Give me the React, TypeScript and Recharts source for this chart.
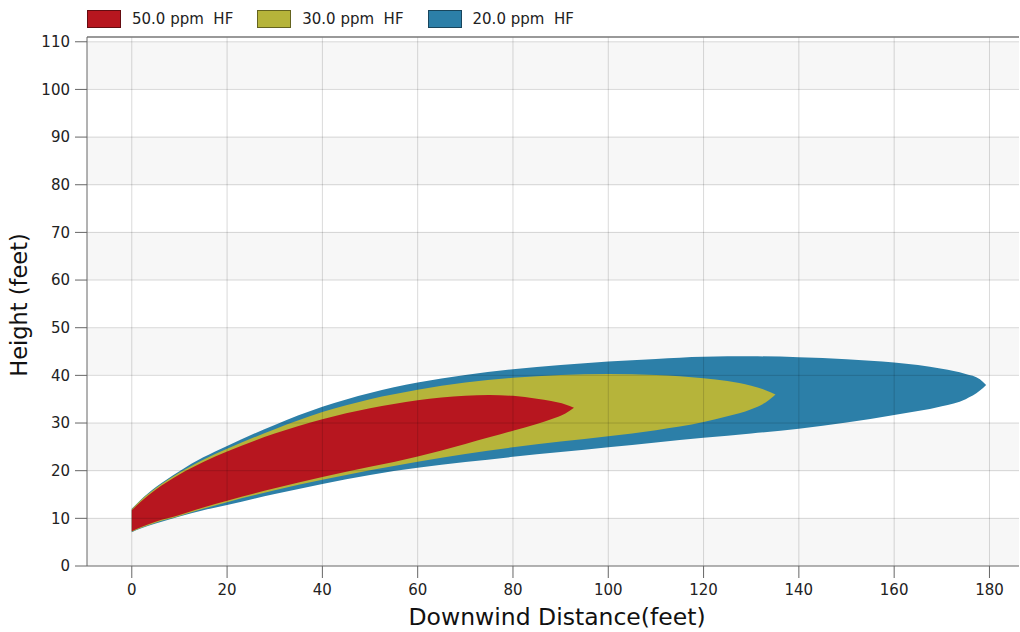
import React from 'react';
import { ComposedChart, Area, XAxis, YAxis, CartesianGrid, ReferenceLine } from 'recharts';

const xTicks = [0, 20, 40, 60, 80, 100, 120, 140, 160, 180];
const yTicks = [0, 10, 20, 30, 40, 50, 60, 70, 80, 90, 100, 110];

const seriesNames = ['50.0 ppm  HF', '30.0 ppm  HF', '20.0 ppm  HF'];
const seriesColors = ['#b7161f', '#b6b43a', '#2c7fa8'];

// 50.0 ppm HF plume
const redX = [0, 2, 5, 10, 15, 20, 30, 40, 50, 60, 70, 75, 80, 85, 88, 91, 92.8];
const redHigh = [11.7, 13.6, 16.0, 19.2, 21.8, 24.0, 27.8, 30.8, 33.1, 34.8, 35.7, 35.9, 35.7, 35.1, 34.6, 33.9, 33.2];
const redLow = [7.3, 8.2, 9.3, 10.7, 12.3, 13.7, 16.3, 18.7, 20.8, 23.0, 25.6, 27.0, 28.4, 29.8, 30.8, 32.0, 33.2];

// 30.0 ppm HF plume
const yellowX = [0, 2, 5, 10, 15, 20, 30, 40, 50, 60, 70, 80, 90, 100, 110, 120, 125, 130, 133, 135.1];
const yellowHigh = [11.9, 13.9, 16.3, 19.6, 22.3, 24.6, 28.7, 32.3, 35.0, 37.0, 38.5, 39.5, 40.1, 40.3, 40.1, 39.4, 38.8, 37.8, 36.9, 36.0];
const yellowLow = [7.2, 8.0, 9.1, 10.5, 12.0, 13.4, 15.9, 18.1, 20.1, 21.9, 23.5, 24.9, 26.1, 27.2, 28.5, 30.2, 31.4, 32.9, 34.3, 36.0];

// 20.0 ppm HF plume
const blueX = [0, 2, 5, 10, 15, 20, 30, 40, 50, 60, 70, 80, 90, 100, 110, 120, 130, 140, 150, 160, 170, 175, 178, 179.3];
const blueHigh = [12.0, 14.0, 16.5, 19.9, 22.8, 25.2, 29.6, 33.4, 36.3, 38.5, 40.1, 41.3, 42.15, 42.9, 43.45, 43.9, 44.0, 43.8, 43.4, 42.7, 41.4, 40.3, 39.2, 38.0];
const blueLow = [7.1, 7.9, 8.9, 10.4, 11.7, 12.8, 15.1, 17.2, 19.1, 20.6, 21.8, 22.9, 23.9, 24.9, 25.9, 26.9, 27.8, 28.8, 30.1, 31.7, 33.5, 35.0, 36.8, 38.0];

type Row = { x: number; red?: number[]; yellow?: number[]; blue?: number[] };

function buildTable(): Row[] {
  const map = new Map<number, Row>();
  const add = (key: 'red' | 'yellow' | 'blue', xs: number[], lo: number[], hi: number[]) => {
    xs.forEach((x, i) => {
      const row = map.get(x) ?? { x };
      row[key] = [lo[i], hi[i]];
      map.set(x, row);
    });
  };
  add('blue', blueX, blueLow, blueHigh);
  add('yellow', yellowX, yellowLow, yellowHigh);
  add('red', redX, redLow, redHigh);
  return Array.from(map.values()).sort((a, b) => a.x - b.x);
}

const data = buildTable();
const FONT = '"DejaVu Sans", Verdana, sans-serif';
const gridStroke = 'rgba(0,0,0,0.15)';

export default function App() {
  return (
    <div style={{ position: 'absolute', left: 0, top: 0, width: 1020, height: 632, background: '#fff', fontFamily: FONT }}>
      <ComposedChart width={1020} height={632} data={data} margin={{ top: 37, right: 1, bottom: 0, left: 0 }}>
        <CartesianGrid stroke="none" vertical={false} horizontalFill={['#ffffff', '#f7f7f7']} />
        <XAxis
          dataKey="x"
          type="number"
          domain={[-9.4, 186.2]}
          ticks={xTicks}
          allowDataOverflow
          height={66}
          stroke="#666"
          tickSize={12}
          tickMargin={6}
          tick={{ fill: '#222', fontSize: 15, fontFamily: FONT }}
        />
        <YAxis
          type="number"
          domain={[0, 111]}
          ticks={yTicks}
          allowDataOverflow
          width={87}
          stroke="#666"
          tickSize={12}
          tickMargin={5}
          tick={{ fill: '#222', fontSize: 15, fontFamily: FONT }}
        />
        <Area dataKey="blue" type="monotone" connectNulls stroke="none" fill={seriesColors[2]} fillOpacity={1} isAnimationActive={false} dot={false} activeDot={false} />
        <Area dataKey="yellow" type="monotone" connectNulls stroke="none" fill={seriesColors[1]} fillOpacity={1} isAnimationActive={false} dot={false} activeDot={false} />
        <Area dataKey="red" type="monotone" connectNulls stroke="none" fill={seriesColors[0]} fillOpacity={1} isAnimationActive={false} dot={false} activeDot={false} />
        {xTicks.map((t) => (
          <ReferenceLine key={'vx' + t} x={t} stroke={gridStroke} strokeWidth={1} />
        ))}
        {yTicks.filter((t) => t > 0).map((t) => (
          <ReferenceLine key={'hy' + t} y={t} stroke={gridStroke} strokeWidth={1} />
        ))}
        <ReferenceLine y={111} stroke="#777" strokeWidth={1.5} />
        <text x={557} y={625} textAnchor="middle" fontSize={23.5} fontFamily={FONT} fill="#111">
          Downwind Distance(feet)
        </text>
        <text x={27} y={305} transform="rotate(-90, 27, 305)" textAnchor="middle" fontSize={22.5} fontFamily={FONT} fill="#111">
          Height (feet)
        </text>
      </ComposedChart>
      <div style={{ position: 'absolute', left: 87, top: 10, display: 'flex', alignItems: 'center', fontSize: 15, color: '#222' }}>
        {seriesNames.map((n, i) => (
          <div key={n} style={{ display: 'flex', alignItems: 'center', marginRight: 24 }}>
            <div style={{ width: 32, height: 16, background: seriesColors[i], border: '1px solid rgba(0,0,0,0.45)', marginRight: 11 }} />
            <span style={{ whiteSpace: 'pre' }}>{n}</span>
          </div>
        ))}
      </div>
    </div>
  );
}
